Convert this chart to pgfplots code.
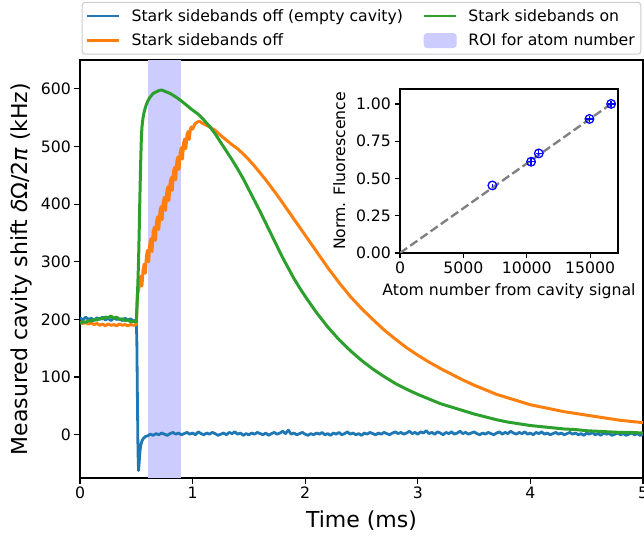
\documentclass[border=0pt]{standalone}
\usepackage{fontspec}
\setmainfont{DejaVu Sans}
\usepackage{pgfplots}
\pgfplotsset{compat=1.18}
\usepackage{pgfplotstable}

\definecolor{tabblue}{RGB}{31,119,180}
\definecolor{taborange}{RGB}{255,127,14}
\definecolor{tabgreen}{RGB}{44,160,44}
\definecolor{roiblue}{RGB}{204,204,255}
\definecolor{legframe}{RGB}{204,204,204}
\definecolor{mplblue}{RGB}{0,0,255}

\newcommand{\smallfont}{\fontsize{15.7}{18.8}\selectfont}
\newcommand{\bigfont}{\fontsize{22}{26}\selectfont}

\pgfplotsset{/pgf/number format/assume math mode=true}

\pgfplotstableread{
t v
0.000 203
0.025 199
0.050 204
0.075 200
0.100 202
0.125 198
0.150 203
0.175 200
0.200 204
0.225 199
0.250 202
0.275 198
0.300 203
0.325 200
0.350 201
0.375 198
0.400 202
0.425 199
0.450 201
0.475 197
0.500 199
0.505 160
0.510 60
0.515 -30
0.520 -62
0.525 -50
0.530 -35
0.535 -25
0.540 -18
0.550 -11
0.560 -7
0.570 -5
0.580 -3
0.600 -2
0.625 1
0.650 -1
0.675 2
0.700 0
0.725 3
0.750 1
0.775 -1
0.800 2
0.825 4
0.850 1
0.875 3
0.900 0
0.925 2
0.950 4
0.975 1
1.000 3
1.025 0
1.050 5
1.075 2
1.100 0
1.125 3
1.150 1
1.175 4
1.200 2
1.225 -1
1.250 1
1.275 3
1.300 0
1.325 4
1.350 2
1.375 5
1.400 1
1.425 3
1.450 -1
1.475 2
1.500 0
1.525 3
1.550 1
1.575 4
1.600 2
1.625 0
1.650 3
1.675 -1
1.700 2
1.725 4
1.750 1
1.775 3
1.800 6
1.825 2
1.850 8
1.875 1
1.900 3
1.925 0
1.950 2
1.975 4
2.000 1
2.025 -1
2.050 2
2.075 0
2.100 3
2.125 1
2.150 4
2.175 0
2.200 2
2.225 -1
2.250 3
2.275 1
2.300 4
2.325 0
2.350 2
2.375 5
2.400 1
2.425 3
2.450 0
2.475 2
2.500 -1
2.525 3
2.550 1
2.575 4
2.600 2
2.625 0
2.650 3
2.675 1
2.700 4
2.725 2
2.750 0
2.775 3
2.800 5
2.825 2
2.850 4
2.875 1
2.900 3
2.925 6
2.950 2
2.975 4
3.000 1
3.025 5
3.050 3
3.075 7
3.100 2
3.125 4
3.150 1
3.175 5
3.200 3
3.225 0
3.250 4
3.275 2
3.300 5
3.325 1
3.350 3
3.375 6
3.400 2
3.425 4
3.450 1
3.475 3
3.500 5
3.525 2
3.550 0
3.575 3
3.600 1
3.625 4
3.650 2
3.675 0
3.700 3
3.725 5
3.750 1
3.775 4
3.800 2
3.825 6
3.850 3
3.875 1
3.900 4
3.925 2
3.950 5
3.975 1
4.000 3
4.025 0
4.050 4
4.075 2
4.100 5
4.125 1
4.150 3
4.175 0
4.200 2
4.225 4
4.250 1
4.275 3
4.300 0
4.325 2
4.350 4
4.375 1
4.400 3
4.425 0
4.450 2
4.475 -1
4.500 3
4.525 1
4.550 4
4.575 0
4.600 2
4.625 -1
4.650 3
4.675 1
4.700 2
4.725 -1
4.750 1
4.775 3
4.800 0
4.825 2
4.850 -1
4.875 1
4.900 3
4.925 0
4.950 2
4.975 -1
5.000 1
}\blueData

\pgfplotstableread{
t v
0.000 196
0.025 193
0.050 195
0.075 192
0.100 194
0.125 191
0.150 193
0.175 190
0.200 192
0.225 189
0.250 192
0.275 190
0.300 191
0.325 189
0.350 192
0.375 190
0.400 191
0.425 189
0.450 191
0.475 190
0.500 191
0.505 225
0.510 244
0.520 250
0.530 262
0.540 275
0.550 258
0.560 285
0.570 296
0.580 280
0.590 310
0.600 320
0.610 300
0.620 332
0.630 340
0.640 318
0.650 352
0.660 360
0.670 337
0.680 370
0.690 378
0.700 356
0.710 388
0.720 396
0.730 373
0.740 404
0.750 412
0.760 389
0.770 420
0.780 430
0.790 406
0.800 438
0.810 446
0.820 424
0.830 456
0.840 464
0.850 442
0.860 474
0.870 482
0.880 460
0.890 490
0.900 498
0.910 478
0.920 506
0.930 513
0.940 496
0.950 520
0.960 526
0.970 512
0.980 530
0.990 534
1.000 530
1.020 539
1.040 542
1.060 544
1.080 541
1.100 539
1.120 537
1.150 534
1.200 528
1.250 519
1.300 511
1.350 503
1.400 496
1.450 487
1.500 477
1.550 466
1.600 454
1.650 442
1.700 429
1.750 416
1.800 402
1.850 388
1.900 374
1.950 360
2.000 346
2.100 318
2.200 290
2.300 264
2.400 240
2.500 219
2.600 200
2.700 182
2.800 166
2.900 151
3.000 138
3.100 126
3.200 115
3.300 105
3.400 95
3.500 86
3.600 78
3.700 70
3.800 64
3.900 58
4.000 52
4.100 48
4.200 44
4.300 40
4.400 37
4.500 34
4.600 31
4.700 28
4.800 25
4.900 23
5.000 21
}\orangeData

\pgfplotstableread{
t v
0.000 193
0.025 196
0.050 195
0.075 198
0.100 197
0.125 200
0.150 199
0.175 202
0.200 201
0.225 204
0.250 203
0.275 206
0.300 202
0.325 204
0.350 200
0.375 201
0.400 198
0.425 199
0.450 196
0.475 197
0.500 196
0.505 215
0.510 240
0.515 270
0.520 300
0.525 345
0.530 395
0.535 440
0.540 480
0.545 515
0.550 533
0.555 542
0.560 550
0.570 560
0.580 567
0.590 573
0.600 578
0.620 585
0.650 592
0.700 597
0.725 598
0.750 596
0.800 592
0.850 586
0.900 579
0.950 571
1.000 563
1.050 556
1.100 546
1.150 535
1.200 522
1.250 507
1.300 492
1.350 477
1.400 461
1.450 444
1.500 425
1.550 406
1.600 387
1.650 367
1.700 347
1.750 327
1.800 307
1.850 289
1.900 271
1.950 255
2.000 240
2.100 212
2.200 187
2.300 165
2.400 146
2.500 129
2.600 114
2.700 101
2.800 89
2.900 79
3.000 70
3.100 62
3.200 54
3.300 48
3.400 42
3.500 36
3.600 31
3.700 26
3.800 22
3.900 19
4.000 16
4.100 14
4.200 12
4.300 10
4.400 9
4.500 7
4.600 6
4.700 5
4.800 4
4.900 4
5.000 3
}\greenData

\pgfplotstableread{
x y ex ey
7287 0.453 60 0.008
10342 0.612 280 0.022
10950 0.668 220 0.020
14947 0.899 280 0.020
16658 1.000 280 0.022
}\insetData

\begin{document}
\begin{tikzpicture}
\useasboundingbox (-80pt,-59pt) rectangle (564pt,478pt);
\begin{axis}[
  at={(0pt,0pt)}, anchor=south west,
  scale only axis, width=563pt, height=418pt,
  xmin=0, xmax=5, ymin=-75, ymax=650,
  xtick={0,1,2,3,4,5}, ytick={0,100,200,300,400,500,600},
  tick align=outside, xtick pos=bottom, ytick pos=left,
  major tick length=5.5pt,
  every tick/.style={black, line width=1.25pt},
  axis line style={black, line width=1.25pt},
  tick label style={font=\smallfont},
  label style={font=\bigfont},
  xlabel={Time (ms)},
  ylabel={Measured cavity shift {\itshape δ}Ω/2{\itshape π} (kHz)},
  xlabel style={at={(axis description cs:0.5,-0.1196)}, anchor=base},
  ylabel style={at={(axis description cs:-0.0924,0.5)}, anchor=base},
  legend columns=2,
  legend cell align=left,
  legend style={at={(0.5,1.139)}, anchor=north, font=\smallfont,
    draw=legframe, line width=1pt, rounded corners=3pt, fill=white,
    /tikz/every odd column/.append style={column sep=9pt},
    /tikz/every even column/.append style={column sep=18pt},
    row sep=7pt, inner xsep=4pt, inner ysep=5pt},
]
\addplot[fill=roiblue, draw=none, forget plot] coordinates {(0.6,-75) (0.9,-75) (0.9,650) (0.6,650)} -- cycle;
\addplot[tabblue, line width=2.8pt, line join=round, forget plot] table[x=t, y=v] {\blueData};
\addplot[taborange, line width=3pt, line join=round, forget plot] table[x=t, y=v] {\orangeData};
\addplot[tabgreen, line width=3pt, line join=round, forget plot] table[x=t, y=v] {\greenData};
\addlegendimage{legend image code/.code={\draw[tabblue, line width=2.35pt] (0pt,0pt) -- (32pt,0pt);}}
\addlegendentry{Stark sidebands off (empty cavity)}
\addlegendimage{legend image code/.code={\draw[tabgreen, line width=2.35pt] (0pt,0pt) -- (32pt,0pt);}}
\addlegendentry{Stark sidebands on}
\addlegendimage{legend image code/.code={\draw[taborange, line width=2.35pt] (0pt,0pt) -- (32pt,0pt);}}
\addlegendentry{Stark sidebands off}
\addlegendimage{legend image code/.code={\fill[roiblue] (0pt,-7pt) rectangle (32pt,7pt);}}
\addlegendentry{ROI for atom number}
\end{axis}

\begin{axis}[
  at={(320pt,225pt)}, anchor=south west,
  scale only axis, width=218pt, height=164pt,
  xmin=0, xmax=17200, ymin=0, ymax=1.1,
  xtick={0,5000,10000,15000}, ytick={0,0.25,0.5,0.75,1},
  scaled x ticks=false, scaled y ticks=false,
  xticklabel style={/pgf/number format/.cd, 1000 sep={}},
  yticklabel style={/pgf/number format/.cd, fixed, fixed zerofill, precision=2},
  tick align=outside, xtick pos=bottom, ytick pos=left,
  major tick length=5.5pt,
  every tick/.style={black, line width=1.25pt},
  axis line style={black, line width=1.25pt},
  axis background/.style={fill=white},
  tick label style={font=\smallfont},
  label style={font=\smallfont},
  xlabel={Atom number from cavity signal},
  ylabel={Norm. Fluorescence},
  xlabel style={at={(axis description cs:0.5,-0.262)}, anchor=base},
  ylabel style={at={(axis description cs:-0.252,0.5)}, anchor=base},
]
\addplot[gray, line width=2.35pt, dash pattern=on 8.7pt off 3.8pt] coordinates {(0,0) (16658,1.0)};
\addplot[mplblue, only marks, mark=o, mark size=4.3pt, mark options={line width=1.3pt},
  error bars/.cd, x dir=both, x explicit, y dir=both, y explicit,
  error mark=none, error bar style={mplblue, line width=1.3pt}]
  table[x=x, y=y, x error=ex, y error=ey] {\insetData};
\end{axis}
\end{tikzpicture}
\end{document}
